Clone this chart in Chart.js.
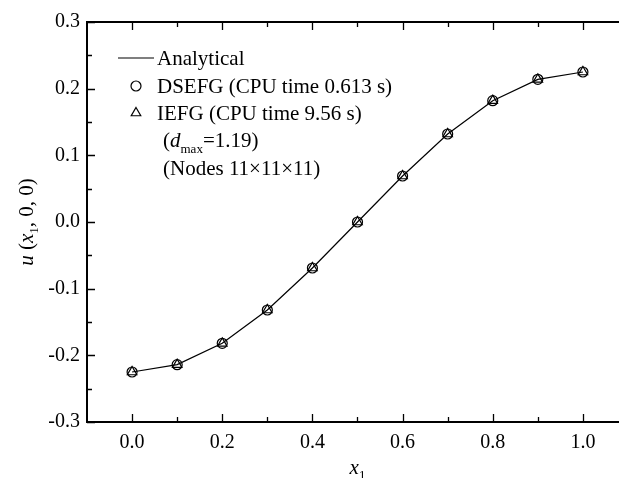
<!DOCTYPE html>
<html lang="en">
<head>
  <meta charset="UTF-8" />
  <title>u(x1,0,0) comparison</title>
  <script src="https://cdn.jsdelivr.net/npm/chart.js"></script>
  <style>
    body {
      margin: 0;
      background: #fff;
    }
    #wrap {
      width: 619px;
      height: 478px;
      overflow: hidden;
      position: relative;
    }
    canvas {
      display: block;
    }
  </style>
</head>
<body>

<div id="wrap">
  <canvas id="uChart" width="640" height="478"></canvas>
</div>

<script>
  // values
  const xNodes = [0.0, 0.1, 0.2, 0.3, 0.4, 0.5, 0.6, 0.7, 0.8, 0.9, 1.0];
  const analytical = [-0.225, -0.214, -0.182, -0.132, -0.069, 0.0, 0.069, 0.132, 0.182, 0.214, 0.225];
  const dsefg = [-0.225, -0.214, -0.182, -0.132, -0.069, 0.0, 0.069, 0.132, 0.182, 0.214, 0.225];
  const iefg = [-0.225, -0.214, -0.182, -0.132, -0.069, 0.0, 0.069, 0.132, 0.182, 0.214, 0.225];

  const xTicks = [0.0, 0.2, 0.4, 0.6, 0.8, 1.0];
  const xMinorTicks = [0.1, 0.3, 0.5, 0.7, 0.9, 1.1];
  const yTicks = [-0.3, -0.2, -0.1, 0.0, 0.1, 0.2, 0.3];
  const yMinorTicks = [-0.25, -0.15, -0.05, 0.05, 0.15, 0.25];

  const legendRows = [
    { kind: 'line', text: 'Analytical' },
    { kind: 'circle', text: 'DSEFG (CPU time 0.613 s)' },
    { kind: 'triangle', text: 'IEFG (CPU time 9.56 s)' }
  ];

  const SERIF = '"Liberation Serif", "Times New Roman", serif';

  const toPoints = ys => xNodes.map((x, i) => ({ x: x, y: ys[i] }));

  // frame + inward ticks on all sides
  const frameTicks = {
    id: 'frameTicks',
    afterDatasetsDraw(chart) {
      const { ctx, chartArea: a, scales: { x, y } } = chart;
      ctx.save();
      ctx.strokeStyle = '#000';
      ctx.lineWidth = 1.3;
      ctx.beginPath();
      xTicks.forEach(v => {
        const px = Math.round(x.getPixelForValue(v)) + 0.5;
        ctx.moveTo(px, a.bottom); ctx.lineTo(px, a.bottom - 8);
        ctx.moveTo(px, a.top); ctx.lineTo(px, a.top + 8);
      });
      xMinorTicks.forEach(v => {
        const px = Math.round(x.getPixelForValue(v)) + 0.5;
        ctx.moveTo(px, a.bottom); ctx.lineTo(px, a.bottom - 5);
        ctx.moveTo(px, a.top); ctx.lineTo(px, a.top + 5);
      });
      yTicks.forEach(v => {
        const py = Math.round(y.getPixelForValue(v)) + 0.5;
        ctx.moveTo(a.left, py); ctx.lineTo(a.left + 8, py);
        ctx.moveTo(a.right, py); ctx.lineTo(a.right - 8, py);
      });
      yMinorTicks.forEach(v => {
        const py = Math.round(y.getPixelForValue(v)) + 0.5;
        ctx.moveTo(a.left, py); ctx.lineTo(a.left + 5, py);
        ctx.moveTo(a.right, py); ctx.lineTo(a.right - 5, py);
      });
      ctx.stroke();
      ctx.lineWidth = 2;
      ctx.strokeRect(a.left, a.top, a.right - a.left, a.bottom - a.top);
      ctx.restore();
    }
  };

  // draw a run of text pieces left to right
  function drawRuns(ctx, runs, x0, y0) {
    let xp = x0;
    runs.forEach(r => {
      ctx.font = r.font;
      ctx.fillText(r.t, xp, y0 + (r.dy || 0));
      xp += ctx.measureText(r.t).width;
    });
    return xp;
  }

  // legend and axis titles (subscripts need manual layout)
  const annotations = {
    id: 'annotations',
    afterDraw(chart) {
      const { ctx, chartArea: a } = chart;
      const f = '21px ' + SERIF;
      const fi = 'italic 21px ' + SERIF;
      const fs = '13px ' + SERIF;
      ctx.save();
      ctx.strokeStyle = '#000';
      ctx.textBaseline = 'alphabetic';

      const rowY = [58, 86, 113];
      legendRows.forEach((row, i) => {
        const cy = rowY[i];
        if (row.kind === 'line') {
          ctx.lineWidth = 1.2;
          ctx.beginPath();
          ctx.moveTo(118, cy); ctx.lineTo(154, cy);
          ctx.stroke();
        } else {
          ctx.fillStyle = 'rgba(0,0,0,0)';
          ctx.lineWidth = 1.2;
          Chart.helpers.drawPoint(ctx, { pointStyle: row.kind, radius: row.kind === 'circle' ? 5 : 5.5, borderWidth: 1.2 }, 136, cy);
        }
        ctx.fillStyle = '#000';
        ctx.font = f;
        ctx.fillText(row.text, 157, cy + 7);
      });

      ctx.fillStyle = '#000';
      drawRuns(ctx, [
        { t: '(', font: f },
        { t: 'd', font: fi },
        { t: 'max', font: fs, dy: 6 },
        { t: '=1.19)', font: f }
      ], 163, 147);
      drawRuns(ctx, [{ t: '(Nodes 11\u00d711\u00d711)', font: f }], 163, 175);

      // x title
      const xRuns = [{ t: 'x', font: fi }, { t: '1', font: fs, dy: 5 }];
      let w = 0;
      xRuns.forEach(r => { ctx.font = r.font; w += ctx.measureText(r.t).width; });
      drawRuns(ctx, xRuns, (a.left + a.right) / 2 - w / 2, 474);

      // y title, rotated
      const yRuns = [
        { t: 'u', font: fi },
        { t: ' (', font: f },
        { t: 'x', font: fi },
        { t: '1', font: fs, dy: 5 },
        { t: ', 0, 0)', font: f }
      ];
      w = 0;
      yRuns.forEach(r => { ctx.font = r.font; w += ctx.measureText(r.t).width; });
      ctx.translate(33, (a.top + a.bottom) / 2);
      ctx.rotate(-Math.PI / 2);
      drawRuns(ctx, yRuns, -w / 2, 0);
      ctx.restore();
    }
  };

  new Chart(document.getElementById('uChart'), {
    type: 'scatter',
    data: {
      datasets: [
        {
          label: 'Analytical',
          data: toPoints(analytical),
          showLine: true,
          borderColor: '#000',
          borderWidth: 1.2,
          pointRadius: 0,
          tension: 0
        },
        {
          label: 'DSEFG (CPU time 0.613 s)',
          data: toPoints(dsefg),
          pointStyle: 'circle',
          pointRadius: 5,
          borderColor: '#000',
          backgroundColor: 'rgba(0,0,0,0)',
          borderWidth: 1.2
        },
        {
          label: 'IEFG (CPU time 9.56 s)',
          data: toPoints(iefg),
          pointStyle: 'triangle',
          pointRadius: 5.5,
          borderColor: '#000',
          backgroundColor: 'rgba(0,0,0,0)',
          borderWidth: 1.2
        }
      ]
    },
    options: {
      responsive: false,
      animation: false,
      devicePixelRatio: 1,
      layout: { padding: { top: 22, right: 12, left: 0, bottom: 0 } },
      plugins: { legend: { display: false }, tooltip: { enabled: false } },
      scales: {
        x: {
          type: 'linear',
          min: -0.1,
          max: 1.1,
          afterBuildTicks: s => { s.ticks = xTicks.map(v => ({ value: v })); },
          afterFit: s => { s.height = 56; },
          grid: { display: false, drawTicks: false },
          border: { display: false },
          ticks: {
            padding: 9,
            color: '#000',
            font: { family: SERIF, size: 20 },
            callback: v => Number(v).toFixed(1)
          }
        },
        y: {
          min: -0.3,
          max: 0.3,
          afterBuildTicks: s => { s.ticks = yTicks.map(v => ({ value: v })); },
          afterFit: s => { s.width = 87; },
          grid: { display: false, drawTicks: false },
          border: { display: false },
          ticks: {
            padding: 7,
            color: '#000',
            font: { family: SERIF, size: 20 },
            callback: v => Number(v).toFixed(1)
          }
        }
      }
    },
    plugins: [frameTicks, annotations]
  });
</script>
</body>
</html>
